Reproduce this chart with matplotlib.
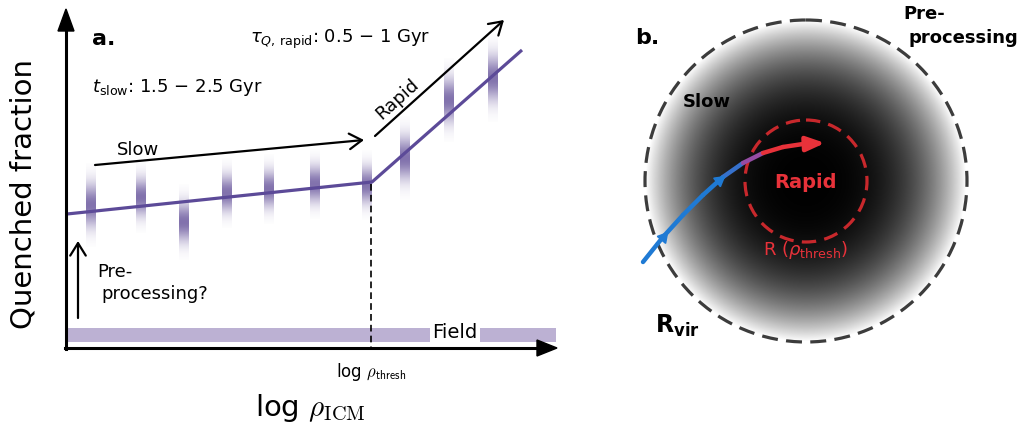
import numpy as np
import matplotlib
matplotlib.use("Agg")
from matplotlib import pyplot as plt
from matplotlib.collections import LineCollection
from matplotlib.colors import LinearSegmentedColormap
from matplotlib.patches import Circle, Polygon

plt.rcParams['font.family'] = ['DejaVu Sans']
plt.rcParams['mathtext.fontset'] = 'dejavusans'

# panel a: scatter bars around the quenched-fraction trend (canvas px)
bar_x = [91, 141, 184, 227, 269, 315, 367, 405, 449, 493]
bar_mid = [205, 197, 222, 193, 189, 184, 185, 158, 100, 78]
bar_half = [42, 36, 38, 35, 35, 35, 35, 42, 42, 44]

trend_x = [67, 372, 522]
trend_y = [214, 182, 50]

field_left = [68, 480]
field_right = [430, 556]

# panel b: cluster and infall orbit
cluster_x, cluster_y = 806, 181
r_vir = 161
r_thresh = 61
orbit_x = [643, 663, 683, 703, 723, 743, 763, 783, 803, 812]
orbit_y = [262, 237, 215, 195, 177, 163, 153, 147, 144, 143]

purple = '#5c4a98'
bar_col = np.array([0.42, 0.35, 0.62])
field_col = '#bcb1d3'
blue = '#1f7ad4'
red = '#e8323a'

fig = plt.figure(figsize=(10.34, 4.26), dpi=100)
ax = fig.add_axes([0, 0, 1, 1])

# ---- panel a ----
for x, c, h in zip(bar_x, bar_mid, bar_half):
    t = np.linspace(-1, 1, 60)
    img = np.zeros((60, 1, 4))
    img[:, 0, :3] = bar_col
    img[:, 0, 3] = 0.85 * np.exp(-(t / 0.5) ** 2)
    ax.imshow(img, extent=(x - 5, x + 5, c + h, c - h), interpolation='bilinear', zorder=1)

ax.plot(trend_x, trend_y, color=purple, lw=2.3, solid_capstyle='butt', zorder=3)

for l, r in zip(field_left, field_right):
    ax.barh(335, r - l, left=l, height=14, color=field_col, zorder=1)
ax.text(455, 333, 'Field', ha='center', va='center', fontsize=14)

# axes with arrowheads
ax.plot([66, 66], [349, 28], color='k', lw=2.2, zorder=4)
ax.add_patch(Polygon([[58, 31], [74, 31], [66, 9]], closed=True, color='k', zorder=4))
ax.plot([65, 540], [348, 348], color='k', lw=2.2, zorder=4)
ax.add_patch(Polygon([[537, 340], [537, 356], [557, 348]], closed=True, color='k', zorder=4))

ax.plot([371, 371], [184, 348], color='k', lw=1.2, ls=(0, (4, 2.5)), zorder=2)

arrow_kw = dict(arrowstyle='->,head_length=0.45,head_width=0.28', lw=1.6,
                color='k', shrinkA=0, shrinkB=0, mutation_scale=20)
ax.annotate('', xy=(364, 140), xytext=(95, 165), arrowprops=arrow_kw)
ax.annotate('', xy=(504, 20), xytext=(375, 136), arrowprops=arrow_kw)
ax.annotate('', xy=(78, 241), xytext=(78, 318), arrowprops=arrow_kw)

ax.text(92, 39, 'a.', fontsize=16, fontweight='bold', va='center')
ax.text(250, 39, r'$\tau_{Q,\,\mathrm{rapid}}$: 0.5 − 1 Gyr', fontsize=13, va='center')
ax.text(92, 87, r'$t_{\mathrm{slow}}$: 1.5 − 2.5 Gyr', fontsize=13, va='center')
ax.text(117, 150, 'Slow', fontsize=13, va='center')
ax.text(397, 99, 'Rapid', rotation=42, fontsize=13, ha='center', va='center',
        rotation_mode='anchor')
ax.text(97, 272, 'Pre-', fontsize=13, va='center')
ax.text(101, 294, 'processing?', fontsize=13, va='center')
ax.text(371, 372, r'log $\rho_{\mathsf{thresh}}$', ha='center', va='center',
        fontsize=12, math_fontfamily='cm')
ax.text(310, 408, r'log $\rho_{\mathrm{ICM}}$', ha='center', va='center',
        fontsize=21, math_fontfamily='cm')
ax.text(24, 194, 'Quenched fraction', rotation=90, ha='center', va='center', fontsize=21)

# ---- panel b ----
n = 400
yy, xx = np.mgrid[-1:1:n * 1j, -1:1:n * 1j]
rr = np.hypot(xx, yy) * (r_vir + 10) / r_vir
halo = np.zeros((n, n, 4))
halo[..., 3] = np.clip(1 - rr ** 3, 0, 1)
ext = r_vir + 10
ax.imshow(halo, extent=(cluster_x - ext, cluster_x + ext, cluster_y + ext, cluster_y - ext),
          interpolation='bilinear', zorder=1)

ax.add_patch(Circle((cluster_x, cluster_y), r_vir, fill=False, ec='#3c3c3c', lw=2.3,
                    ls=(0, (5, 2.6)), zorder=3))
ax.add_patch(Circle((cluster_x, cluster_y), r_thresh, fill=False, ec='#c8282c', lw=2.3,
                    ls=(0, (4.5, 2.6)), zorder=3))

# infall orbit, blue outside going red inside
pts = np.column_stack([orbit_x, orbit_y])
segs = np.stack([pts[:-1], pts[1:]], axis=1)
mid_x = 0.5 * (pts[:-1, 0] + pts[1:, 0])
cmap = LinearSegmentedColormap.from_list('orbit', [blue, '#8a4fb0', red])
lc = LineCollection(segs, colors=cmap(np.clip((mid_x - 728) / 45, 0, 1)), lw=3.2,
                    capstyle='round', joinstyle='round', zorder=4)
ax.add_collection(lc)
ax.annotate('', xy=(825, 143), xytext=(805, 144),
            arrowprops=dict(arrowstyle='-|>,head_length=0.55,head_width=0.22', lw=3.2,
                            color=red, shrinkA=0, shrinkB=0, mutation_scale=20), zorder=5)
ax.plot(663, 237, marker=(3, 0, -40), ms=9, color=blue, zorder=5)
ax.plot(719, 180, marker=(3, 0, -52), ms=9, color=blue, zorder=5)

ax.text(635, 38, 'b.', fontsize=16, fontweight='bold', va='center')
ax.text(683, 102, 'Slow', fontsize=13, fontweight='bold', va='center')
ax.text(806, 182, 'Rapid', fontsize=14, fontweight='bold', color=red, ha='center', va='center')
ax.text(806, 250, r'R ($\rho_{\mathrm{thresh}}$)', fontsize=13, color=red, ha='center', va='center')
ax.text(655, 326, r'$\mathbf{R_{vir}}$', fontsize=17, va='center')
ax.text(903, 14, 'Pre-', fontsize=13, fontweight='bold', va='center')
ax.text(909, 38, 'processing', fontsize=13, fontweight='bold', va='center')

ax.set_xlim(0, 1034)
ax.set_ylim(426, 0)
ax.set_aspect('auto')
ax.axis('off')

fig.savefig('out.png', dpi=100)
